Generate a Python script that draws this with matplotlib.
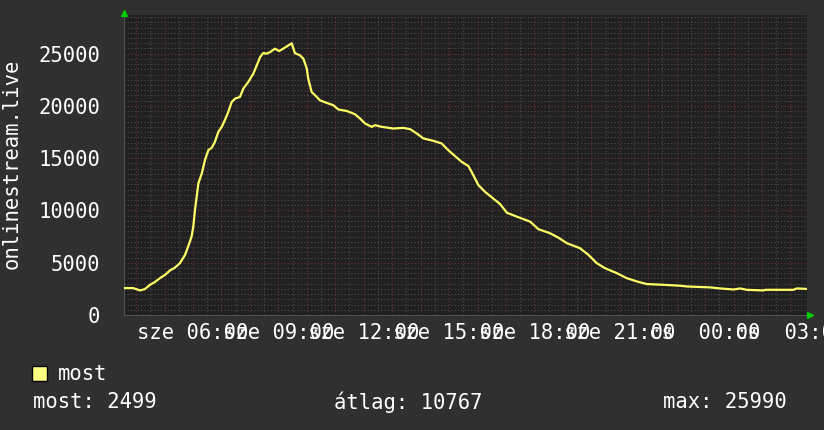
import matplotlib
matplotlib.use("Agg")
import matplotlib.pyplot as plt
from matplotlib.patches import Rectangle

# hours since wednesday 00:00
hours = [3.61, 3.90, 4.14, 4.31, 4.49, 4.66, 4.84, 5.02, 5.19, 5.37, 5.54, 5.72,
         5.83, 5.95, 6.01, 6.07, 6.13, 6.19, 6.31, 6.42, 6.54, 6.66, 6.77, 6.89,
         7.01, 7.12, 7.24, 7.36, 7.48, 7.65, 7.77, 7.94, 8.12, 8.24, 8.36, 8.47,
         8.59, 8.71, 8.88, 9.03, 9.17, 9.35, 9.47, 9.58, 9.76, 9.88, 10.00, 10.05,
         10.17, 10.35, 10.46, 10.70, 10.93, 11.11, 11.40, 11.69, 11.87, 12.05, 12.28,
         12.40, 12.63, 13.04, 13.39, 13.63, 13.86, 14.10, 14.45, 14.74, 14.97, 15.21,
         15.44, 15.68, 15.85, 16.03, 16.26, 16.50, 16.79, 17.03, 17.38, 17.85, 18.14,
         18.55, 18.84, 19.14, 19.60, 19.90, 20.19, 20.48, 20.89, 21.24, 21.60, 21.95,
         22.53, 23.12, 23.35, 24.18, 24.53, 25.00, 25.23, 25.46, 26.05, 26.11, 27.10,
         27.22, 27.54]
viewers = [2576, 2576, 2350, 2480, 2890, 3150, 3530, 3845, 4260, 4540, 4960, 5750,
           6550, 7500, 8450, 10050, 11320, 12600, 13550, 14820, 15770, 16000, 16560, 17520,
           18000, 18640, 19430, 20380, 20700, 20860, 21660, 22290, 23090, 23880, 24680, 25060,
           25000, 25150, 25480, 25250, 25480, 25790, 25990, 25060, 24840, 24520, 23570, 22610,
           21340, 20860, 20540, 20290, 20070, 19660, 19520, 19210, 18800, 18320, 18000,
           18160, 18000, 17840, 17900, 17780, 17370, 16890, 16660, 16410, 15770, 15200,
           14660, 14250, 13390, 12430, 11790, 11260, 10620, 9790, 9410, 8930, 8210,
           7820, 7400, 6870, 6390, 5750, 4960, 4480, 4010, 3530, 3210, 2960,
           2890, 2800, 2730, 2640, 2540, 2440, 2540, 2410, 2350, 2410, 2410,
           2540, 2499]

tick_hours = [6, 9, 12, 15, 18, 21, 24, 27]
tick_labels = ["sze 06:00", "sze 09:00", "sze 12:00", "sze 15:00", "sze 18:00",
               "sze 21:00", "cs  00:00", "cs  03:00"]
y_ticks = [0, 5000, 10000, 15000, 20000, 25000]

series_name = "most"
stat_texts = ["most: 2499", "átlag: 10767", "max: 25990"]
ylabel = "onlinestream.live"

BG = "#303030"
PLOT_BG = "#202020"
MINOR = "#4c4c4c"
MAJOR = "#703232"
FONT = "DejaVu Sans Mono"
FS = 14.8

fig = plt.figure(figsize=(8.24, 4.30), dpi=100, facecolor=BG)
ax = fig.add_axes([124 / 824, 115 / 430, 683 / 824, 300 / 430])
ax.set_facecolor(PLOT_BG)

ax.plot(hours, viewers, color="#ffff66", lw=1.6, zorder=5)

ax.set_xlim(3.575, 27.58)
ax.set_ylim(0, 28700)

# rrdtool-like grid: grey minor, red major, both dotted
for h in range(4, 28):
    ax.axvline(h - 0.5, color=MINOR, ls=(0, (1, 2)), lw=0.8, zorder=1)
    ax.axvline(h, color=MAJOR, ls=(0, (1, 2)), lw=0.8, zorder=2)
for v in range(500, 28700, 500):
    if v % 5000 == 0:
        ax.axhline(v, color=MAJOR, ls=(0, (1, 2)), lw=0.8, zorder=2)
    else:
        ax.axhline(v, color=MINOR, ls=(0, (1, 2)), lw=0.8, zorder=1)

ax.set_xticks(tick_hours)
ax.set_xticklabels(tick_labels, family=FONT, fontsize=FS, color="white")
ax.set_yticks(y_ticks)
ax.set_yticklabels([str(v) for v in y_ticks], family=FONT, fontsize=FS, color="white")
ax.tick_params(axis="x", which="both", length=0, pad=6)
ax.tick_params(axis="y", which="both", length=0, pad=17)

for s in ["top", "right"]:
    ax.spines[s].set_visible(False)
ax.spines["left"].set_color("#505050")
ax.spines["bottom"].set_color("#505050")

# green axis arrows
ax.plot([3.575], [28900], marker="^", color="#00cc00", ms=5, clip_on=False, zorder=6)
ax.plot([27.7], [0], marker=">", color="#00cc00", ms=5, clip_on=False, zorder=6)

fig.text(12 / 824, 1 - 164 / 430, ylabel, rotation=90, family=FONT, fontsize=FS,
         color="white", ha="center", va="center")

# legend
fig.patches.append(Rectangle((32 / 824, 1 - 381 / 430), 15 / 824, 15 / 430,
                             transform=fig.transFigure, facecolor="#ffff80",
                             edgecolor="black", lw=1))
fig.text(58 / 824, 1 - 374 / 430, series_name, family=FONT, fontsize=FS,
         color="white", va="center")
stat_x = [33, 334, 663]
for x, t in zip(stat_x, stat_texts):
    fig.text(x / 824, 1 - 402 / 430, t, family=FONT, fontsize=FS, color="white",
             va="center")

fig.savefig("out.png", dpi=100, facecolor=BG)
